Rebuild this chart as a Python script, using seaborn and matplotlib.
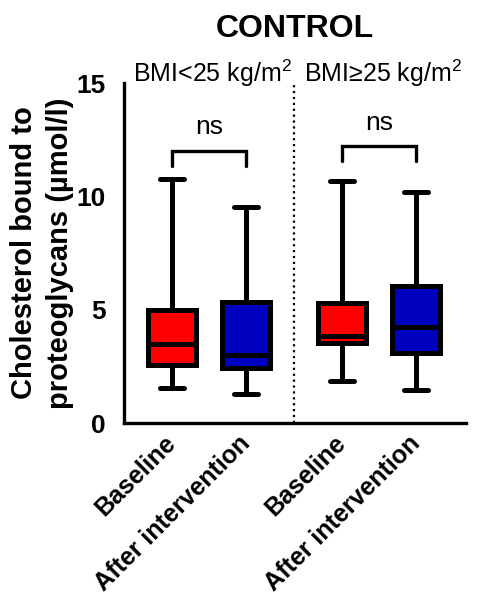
import pandas as pd
import seaborn as sns
import matplotlib.pyplot as plt

# five-number summaries (min, q1, median, q3, max)
baseline_lean = [1.56, 2.55, 3.48, 5.0, 10.75]
after_lean = [1.28, 2.42, 3.0, 5.35, 9.54]
baseline_over = [1.87, 3.52, 3.85, 5.28, 10.67]
after_over = [1.46, 3.1, 4.22, 6.04, 10.18]

positions = [0, 1, 2.3, 3.3]
time_labels = ["Baseline", "After intervention", "Baseline", "After intervention"]
group_labels = ["BMI<25 kg/m$^2$", "BMI\u226525 kg/m$^2$"]
bracket_y = [12.0, 12.2]
ns_y = [13.05, 13.25]

sns.set_style("white")
plt.rcParams["font.family"] = ["Liberation Sans", "DejaVu Sans"]
plt.rcParams["mathtext.fontset"] = "custom"
plt.rcParams["mathtext.rm"] = "Liberation Sans"
plt.rcParams["text.color"] = "black"
plt.rcParams["axes.labelcolor"] = "black"
plt.rcParams["xtick.color"] = "black"
plt.rcParams["ytick.color"] = "black"
plt.rcParams["axes.edgecolor"] = "black"

series = [baseline_lean, after_lean, baseline_over, after_over]
rows = []
for pos, lab, vals in zip(positions, time_labels, series):
    for v in vals:
        rows.append({"pos": pos, "time": lab, "value": v})
df = pd.DataFrame(rows)

fig = plt.figure(figsize=(4.8, 6.02), dpi=100)
ax = fig.add_axes([0.2583, 0.2973, 0.7125, 0.5648])

sns.boxplot(data=df, x="pos", y="value", hue="time", native_scale=True,
            dodge=False, whis=(0, 100), width=0.65, showfliers=False,
            palette={"Baseline": "#FF0000", "After intervention": "#0000C0"},
            saturation=1, linecolor="black", linewidth=3.6, legend=False, ax=ax)

ax.set_xlim(-0.65, 3.97)
ax.set_ylim(0, 15)
ax.set_yticks([0, 5, 10, 15])
ax.set_xticks(positions)
ax.set_xticklabels(time_labels, rotation=45, ha="right", va="center",
                   rotation_mode="anchor", fontweight="bold", fontsize=18)
ax.tick_params(axis="x", length=0, pad=12)
ax.tick_params(axis="y", length=10, width=2.4, labelsize=19, pad=3)
for t in ax.get_yticklabels():
    t.set_fontweight("bold")
ax.set_xlabel("")
ax.set_ylabel("Cholesterol bound to\nproteoglycans (\u00b5mol/l)",
              fontsize=21, fontweight="bold", labelpad=2, linespacing=1.35)

sns.despine(ax=ax)
ax.spines["left"].set_linewidth(2.4)
ax.spines["bottom"].set_linewidth(2.4)

# dotted separator between the BMI groups
mid = (positions[1] + positions[2]) / 2
ax.axvline(mid, color="black", linestyle=":", linewidth=1.6)

# significance brackets
for i in range(2):
    x1, x2 = positions[2 * i], positions[2 * i + 1]
    y = bracket_y[i]
    ax.plot([x1, x1, x2, x2], [y - 0.65, y, y, y - 0.65], color="black",
            linewidth=2.4, solid_joinstyle="miter")
    ax.text((x1 + x2) / 2, ns_y[i], "ns", ha="center", va="center", fontsize=19)
    ax.text((x1 + x2) / 2 + 0.05, 15.45, group_labels[i], ha="center",
            va="center", fontsize=18, clip_on=False)

fig.text(0.615, 0.952, "CONTROL", ha="center", va="center",
         fontsize=23, fontweight="bold")

fig.savefig("out.png", dpi=100)
